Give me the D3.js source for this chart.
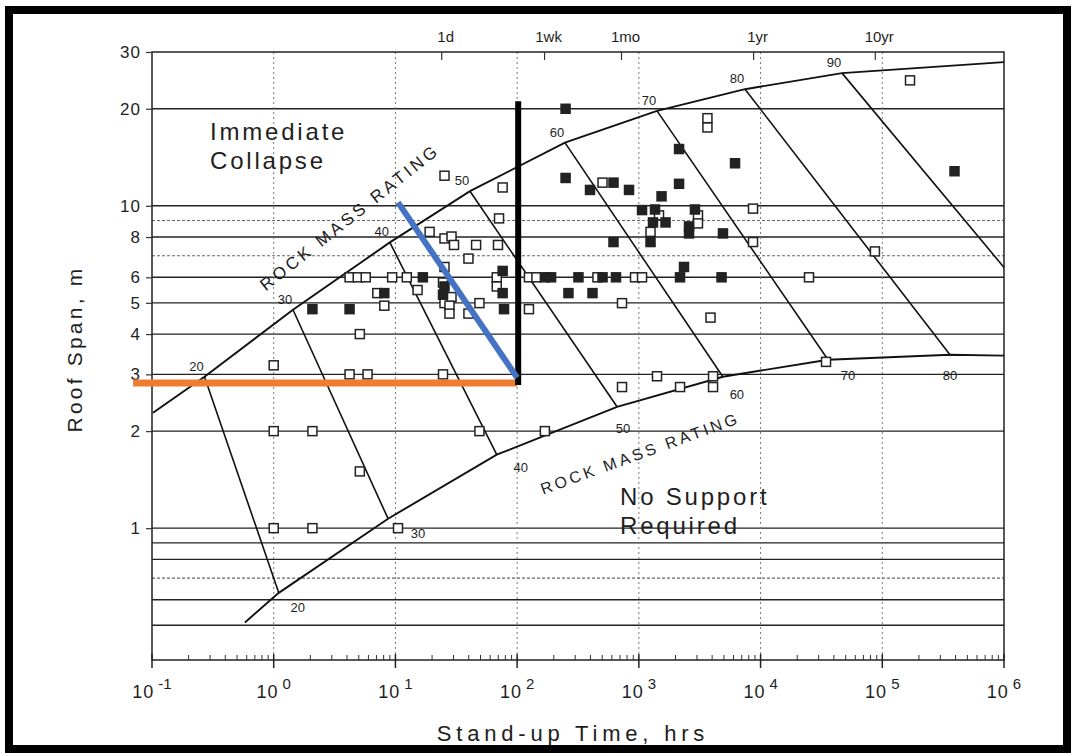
<!DOCTYPE html>
<html>
<head>
<meta charset="utf-8">
<script src="https://cdn.jsdelivr.net/npm/d3@7/dist/d3.min.js"></script>
<style>
  body { margin: 0; background: #fff; }
  svg text { font-family: "Liberation Sans", Arial, Helvetica, sans-serif; fill: #1e1e1e; }
</style>
</head>
<body>
<div id="chart"></div>
<script>
// ---- axis values ----
const spanTicks = [1, 2, 3, 4, 5, 6, 8, 10, 20, 30];
const gridSolid = [0.5, 0.6, 0.8, 0.9, 1, 2, 3, 4, 5, 6, 8, 10, 20];
const gridDotted = [0.7, 7, 9];
const decadeExps = [-1, 0, 1, 2, 3, 4, 5, 6];
const timeMarks = ["1d", "1wk", "1mo", "1yr", "10yr"];
const timeMarkHours = [24, 168, 720, 8760, 87600];

// ---- rock mass rating lines (hours, span m) ----
const rmrValues = [20, 30, 40, 50, 60, 70, 80, 90];
const upperHours = [0.27, 1.44, 9.0, 41, 247, 1410, 7450, 46700];
const upperSpan = [2.95, 4.76, 7.7, 11.1, 15.7, 19.7, 23.0, 25.8];
const lowerHours = [1.1, 8.7, 68, 662, 4900, 35800, 360000, 1e6];
const lowerSpan = [0.63, 1.07, 1.69, 2.38, 2.95, 3.33, 3.45, 6.44];
const upperStart = [0.102, 2.28], upperEnd = [1e6, 27.9];
const lowerStart = [0.58, 0.51], lowerEnd = [1e6, 3.43];

// ---- case histories (hours, span m) ----
const openCases = [
  [1, 3.2], [1, 2], [2.08, 2], [1, 1], [2.08, 1], [10.5, 1], [5.1, 1.5], [5.1, 4],
  [4.2, 3], [5.9, 3], [24.6, 3], [49, 2], [169, 2],
  [4.2, 6], [4.9, 6], [5.7, 6], [9.4, 6], [12.4, 6], [7.1, 5.36], [8.1, 4.9], [15.2, 5.48],
  [25.3, 12.4], [76, 11.4], [19.1, 8.3], [25.3, 7.92], [28.9, 8.03], [30.3, 7.56],
  [46, 7.56], [69.6, 7.56], [71, 9.14], [39.8, 6.86], [25.3, 6.46], [24.6, 5.78],
  [25.3, 4.99], [28.9, 5.21], [27.8, 4.9], [27.8, 4.63], [39.8, 4.63], [49, 4.99],
  [68, 6], [68, 5.62], [125, 6], [144, 6], [125, 4.78],
  [503, 11.8], [1464, 9.34], [3060, 9.34], [3060, 8.82], [1247, 8.3],
  [3660, 18.7], [3660, 17.5], [169000, 24.5], [8670, 9.8], [8670, 7.72], [87000, 7.22],
  [25000, 6], [457, 6], [930, 6], [1062, 6], [727, 4.99], [3880, 4.5],
  [727, 2.74], [1410, 2.96], [2180, 2.74], [4070, 2.96], [4070, 2.74], [34500, 3.28]
];
const filledCases = [
  [2.08, 4.78], [4.2, 4.78], [8.1, 5.36], [16.8, 6], [25.3, 5.62], [24.6, 5.3],
  [76, 6.28], [76, 5.36], [78, 4.78], [169, 6], [190, 6],
  [250, 20], [250, 12.2], [619, 11.8], [397, 11.2], [830, 11.2], [2140, 15], [2140, 11.7],
  [1536, 10.7], [1062, 9.7], [1358, 9.74], [1307, 8.88], [1656, 8.88], [2890, 9.74],
  [2584, 8.63], [2584, 8.21], [1247, 7.72], [619, 7.72], [2350, 6.46],
  [392000, 12.8], [6170, 13.55], [4910, 8.21],
  [319, 6], [503, 6], [649, 6], [2180, 6], [4780, 6], [264, 5.36], [416, 5.36]
];

// ---- overlay marks drawn on top ----
const orangeLine = [[0.07, 2.82], [100, 2.82]];
const blackLine = [[102, 2.78], [102, 21.1]];
const blueLine = [[10.5, 10.25], [100, 2.93]];

const W = 1074, H = 753;
const font = "'Liberation Sans', Arial, Helvetica, sans-serif";

const svg = d3.select("#chart").append("svg")
    .attr("width", W)
    .attr("height", H);

svg.append("rect").attr("width", W).attr("height", H).attr("fill", "#fff");

const x = d3.scaleLog().domain([0.1, 1e6]).range([152, 1004]);
const y = d3.scaleLog().domain([0.39, 30]).range([660, 52]);
const x0 = x.range()[0], x1 = x.range()[1], yTop = y.range()[1], yBot = y.range()[0];

const line = d3.line().x(d => x(d[0])).y(d => y(d[1]));

// grid lines
svg.append("g").selectAll("line").data(gridSolid).enter().append("line")
    .attr("x1", x0).attr("x2", x1)
    .attr("y1", d => y(d)).attr("y2", d => y(d))
    .attr("stroke", "#222").attr("stroke-width", 1.4);

svg.append("g").selectAll("line").data(gridDotted).enter().append("line")
    .attr("x1", x0).attr("x2", x1)
    .attr("y1", d => y(d)).attr("y2", d => y(d))
    .attr("stroke", "#666").attr("stroke-width", 1.1)
    .attr("stroke-dasharray", "3,2");

svg.append("g").selectAll("line").data(decadeExps.slice(1, -1)).enter().append("line")
    .attr("x1", d => x(Math.pow(10, d))).attr("x2", d => x(Math.pow(10, d)))
    .attr("y1", yTop).attr("y2", yBot)
    .attr("stroke", "#777").attr("stroke-width", 1)
    .attr("stroke-dasharray", "2,3");

// plot frame
svg.append("rect")
    .attr("x", x0).attr("y", yTop)
    .attr("width", x1 - x0).attr("height", yBot - yTop)
    .attr("fill", "none").attr("stroke", "#222").attr("stroke-width", 1.5);

// y axis
const yAxis = svg.append("g")
    .attr("transform", `translate(${x0},0)`)
    .call(d3.axisLeft(y).tickValues(spanTicks).tickFormat(d3.format("d")).tickSize(6).tickPadding(5));
yAxis.select(".domain").remove();
yAxis.selectAll("line").attr("stroke", "#333").attr("stroke-width", 1.2);
yAxis.selectAll("text")
    .attr("font-family", font).attr("font-size", "17px")
    .attr("letter-spacing", "1px").attr("fill", "#333");

// bottom axis: decade ticks, minor ticks, 10^n labels
const minor = [];
decadeExps.slice(0, -1).forEach(e => {
    for (let m = 2; m <= 9; m++) minor.push(m * Math.pow(10, e));
});
svg.append("g").selectAll("line").data(minor).enter().append("line")
    .attr("x1", d => x(d)).attr("x2", d => x(d))
    .attr("y1", yBot).attr("y2", yBot - 5)
    .attr("stroke", "#333").attr("stroke-width", 1);

svg.append("g").selectAll("line").data(decadeExps).enter().append("line")
    .attr("x1", d => x(Math.pow(10, d))).attr("x2", d => x(Math.pow(10, d)))
    .attr("y1", yBot - 6).attr("y2", yBot + 8)
    .attr("stroke", "#222").attr("stroke-width", 1.5);

const xLab = svg.append("g").selectAll("text").data(decadeExps).enter().append("text")
    .attr("x", d => x(Math.pow(10, d)))
    .attr("y", 698)
    .attr("text-anchor", "middle")
    .attr("font-size", "18px")
    .attr("fill", "#333");
xLab.append("tspan").attr("letter-spacing", "1px").text("10");
xLab.append("tspan").attr("dx", 4).attr("dy", -9).attr("font-size", "15px").text(d => d);

// top time marks
svg.append("g").selectAll("line").data(timeMarkHours).enter().append("line")
    .attr("x1", d => x(d)).attr("x2", d => x(d))
    .attr("y1", yTop).attr("y2", yTop + 8)
    .attr("stroke", "#333").attr("stroke-width", 1.2);
svg.append("g").selectAll("text").data(timeMarks).enter().append("text")
    .attr("x", (d, i) => x(timeMarkHours[i]) + 4)
    .attr("y", 42)
    .attr("text-anchor", "middle")
    .attr("font-size", "15px")
    .attr("fill", "#333")
    .text(d => d);

// boundary curves
const upperPts = [upperStart].concat(upperHours.map((h, i) => [h, upperSpan[i]]), [upperEnd]);
const lowerPts = [lowerStart].concat(lowerHours.slice(0, -1).map((h, i) => [h, lowerSpan[i]]), [lowerEnd]);

svg.append("path").attr("d", line(upperPts))
    .attr("fill", "none").attr("stroke", "#111").attr("stroke-width", 1.9);
svg.append("path").attr("d", line(lowerPts))
    .attr("fill", "none").attr("stroke", "#111").attr("stroke-width", 1.9);

// rating lines between the two curves
svg.append("g").selectAll("path").data(rmrValues).enter().append("path")
    .attr("d", (d, i) => line([[upperHours[i], upperSpan[i]], [lowerHours[i], lowerSpan[i]]]))
    .attr("fill", "none").attr("stroke", "#111").attr("stroke-width", 1.6);

// case history squares
const sq = 9;
svg.append("g").selectAll("rect").data(openCases).enter().append("rect")
    .attr("x", d => x(d[0]) - sq / 2).attr("y", d => y(d[1]) - sq / 2)
    .attr("width", sq).attr("height", sq)
    .attr("fill", "#fff").attr("stroke", "#222").attr("stroke-width", 1.5);
svg.append("g").selectAll("rect").data(filledCases).enter().append("rect")
    .attr("x", d => x(d[0]) - sq / 2).attr("y", d => y(d[1]) - sq / 2)
    .attr("width", sq).attr("height", sq)
    .attr("fill", "#222").attr("stroke", "#222").attr("stroke-width", 1.5);

// rating labels
svg.append("g").selectAll("text").data(rmrValues).enter().append("text")
    .attr("x", (d, i) => x(upperHours[i]) - 8)
    .attr("y", (d, i) => y(upperSpan[i]) - 6)
    .attr("text-anchor", "middle")
    .attr("font-size", "13px").attr("fill", "#333")
    .text(d => d);

const lowerLabelOffset = [[19, 19], [30, 19], [24, 17], [6, 26], [14, 22], [20, 20], [0, 25]];
svg.append("g").selectAll("text").data(rmrValues.slice(0, -1)).enter().append("text")
    .attr("x", (d, i) => x(lowerHours[i]) + lowerLabelOffset[i][0])
    .attr("y", (d, i) => y(lowerSpan[i]) + lowerLabelOffset[i][1])
    .attr("text-anchor", "middle")
    .attr("font-size", "13px").attr("fill", "#333")
    .text(d => d);

// curve captions
svg.append("text")
    .attr("transform", `translate(${x(0.86)},${y(5.42)}) rotate(-38.5)`)
    .attr("font-size", "17px").attr("letter-spacing", "3.4px")
    .text("ROCK MASS RATING");
svg.append("text")
    .attr("transform", `translate(${x(163)},${y(1.27)}) rotate(-20)`)
    .attr("font-size", "16px").attr("letter-spacing", "3.2px")
    .text("ROCK MASS RATING");

// region captions
const bigText = (lines, px, py) => {
    lines.forEach((t, i) => {
        svg.append("text")
            .attr("x", px).attr("y", py + i * 29)
            .attr("font-size", "24px").attr("letter-spacing", "2.8px")
            .attr("fill", "#222")
            .text(t);
    });
};
bigText(["Immediate", "Collapse"], 210, 140);
bigText(["No Support", "Required"], 620, 505);

// axis titles
svg.append("text")
    .attr("transform", "translate(82,349) rotate(-90)")
    .attr("text-anchor", "middle")
    .attr("font-size", "21px").attr("letter-spacing", "3.2px")
    .attr("fill", "#222")
    .text("Roof Span, m");
svg.append("text")
    .attr("x", 573).attr("y", 741)
    .attr("text-anchor", "middle")
    .attr("font-size", "22px").attr("letter-spacing", "4.8px")
    .attr("fill", "#222")
    .text("Stand-up Time, hrs");

// overlay marks
svg.append("path").attr("d", line(orangeLine))
    .attr("stroke", "#ED7D31").attr("stroke-width", 7).attr("fill", "none");
svg.append("path").attr("d", line(blackLine))
    .attr("stroke", "#000").attr("stroke-width", 6).attr("fill", "none");
svg.append("path").attr("d", line(blueLine))
    .attr("stroke", "#4472C4").attr("stroke-width", 6).attr("fill", "none");

// outer black border
svg.append("rect")
    .attr("x", 9).attr("y", 10)
    .attr("width", 1058).attr("height", 739)
    .attr("fill", "none").attr("stroke", "#000").attr("stroke-width", 8);
</script>
</body>
</html>
